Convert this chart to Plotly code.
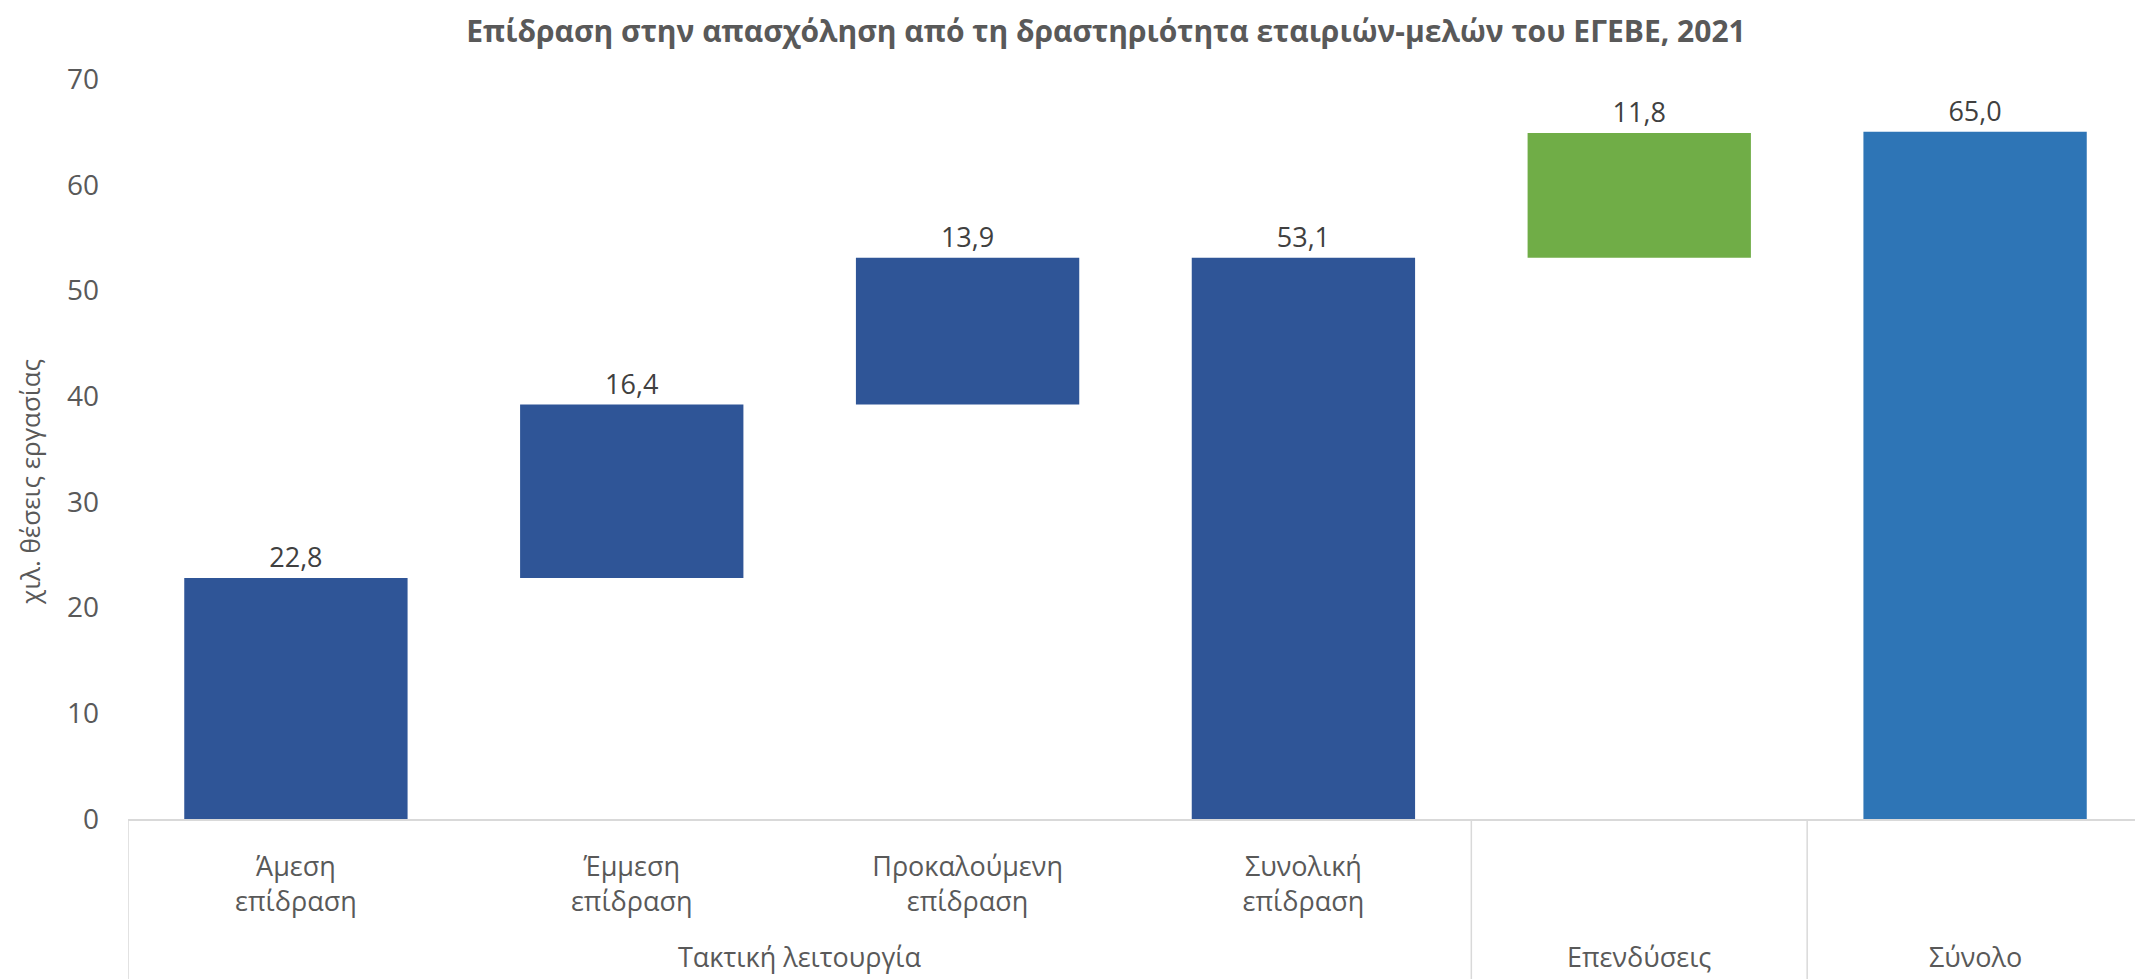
import plotly.graph_objects as go

# ---- data ----
groups = ["Τακτική λειτουργία", "Τακτική λειτουργία", "Τακτική λειτουργία",
          "Τακτική λειτουργία", "Επενδύσεις", "Σύνολο"]
categories = ["Άμεση<br>επίδραση", "Έμμεση<br>επίδραση", "Προκαλούμενη<br>επίδραση",
              "Συνολική<br>επίδραση", " ", "  "]
values = [22.8, 16.4, 13.9, 53.1, 11.8, 65.0]
measures = ["relative", "relative", "relative", "total", "relative", "total"]
y_ticks = [0, 10, 20, 30, 40, 50, 60, 70]

title_text = "Επίδραση στην απασχόληση από τη δραστηριότητα εταιριών-μελών του ΕΓΕΒΕ, 2021"
y_title = "χιλ. θέσεις εργασίας"

# ---- styles ----
bar_colors = ["#2F5597", "#2F5597", "#2F5597", "#2F5597", "#70AD47", "#2E75B6"]
FONT = "Open Sans"
GRID = "#D9D9D9"

# waterfall bases derived from the data
bases = []
running = 0.0
for v, m in zip(values, measures):
    if m == "total":
        bases.append(0.0)
        running = v
    else:
        bases.append(running)
        running += v

# the page body adds an 8px offset, so the figure is 8px smaller
OFF = 8
W, H = 2143 - OFF, 979 - OFF
L, R, T, B = 128 - OFF, 0, 79 - OFF, 160
PH = H - T - B

fig = go.Figure()
fig.add_trace(go.Bar(
    x=categories,
    y=values,
    base=bases,
    marker=dict(color=bar_colors, line=dict(width=0)),
    texttemplate="%{y:.1f}",
    textposition="outside",
    textfont=dict(family=FONT, size=27, color="#404040"),
    cliponaxis=False,
    hoverinfo="skip",
))

# group labels and dividers of the two-level category axis
spans = []
start = 0
for i in range(1, len(groups) + 1):
    if i == len(groups) or groups[i] != groups[start]:
        spans.append((groups[start], start, i - 1))
        start = i

for name, i0, i1 in spans:
    fig.add_annotation(
        text=name, xref="x", yref="paper", x=(i0 + i1) / 2, y=0,
        yshift=-137, xanchor="center", yanchor="middle",
        showarrow=False, font=dict(family=FONT, size=27, color="#595959"),
    )
    for xb in ([i0 - 0.5] if i0 == 0 else []) + [i1 + 0.5]:
        fig.add_shape(
            type="line", xref="x", yref="paper", x0=xb, x1=xb,
            y0=0, y1=-(B + OFF) / PH, line=dict(color=GRID, width=1.5), layer="below",
        )

fig.update_layout(
    width=W, height=H,
    margin=dict(l=L, r=R, t=T, b=B),
    paper_bgcolor="white", plot_bgcolor="white",
    separators=",.",
    bargap=0.335,
    showlegend=False,
    title=dict(text="<b>" + title_text + "</b>", x=(1106 - OFF) / W, xanchor="center",
               xref="container", y=1 - (31 - OFF) / H, yanchor="middle", yref="container",
               font=dict(family=FONT, size=30, color="#595959")),
    font=dict(family=FONT, color="#595959"),
)

fig.update_xaxes(
    type="category", automargin=False,
    range=[-0.5, len(categories) - 0.5],
    showline=True, linecolor=GRID, linewidth=1.5,
    ticks="", showgrid=False, ticklabelstandoff=23,
    tickfont=dict(family=FONT, size=27, color="#595959"),
)
fig.update_yaxes(
    range=[0, 70], tickvals=y_ticks, showgrid=False, zeroline=False,
    showline=False, ticks="", ticklabelstandoff=28, automargin=False,
    tickfont=dict(family=FONT, size=28, color="#595959"),
)

fig.add_annotation(
    text=y_title, textangle=-90, xref="paper", yref="paper",
    x=(30 - 128) / (W - L - R), y=(819 - 482) / PH,
    xanchor="center", yanchor="middle", showarrow=False,
    font=dict(family=FONT, size=26, color="#595959"),
)

fig.write_html("out.html")
